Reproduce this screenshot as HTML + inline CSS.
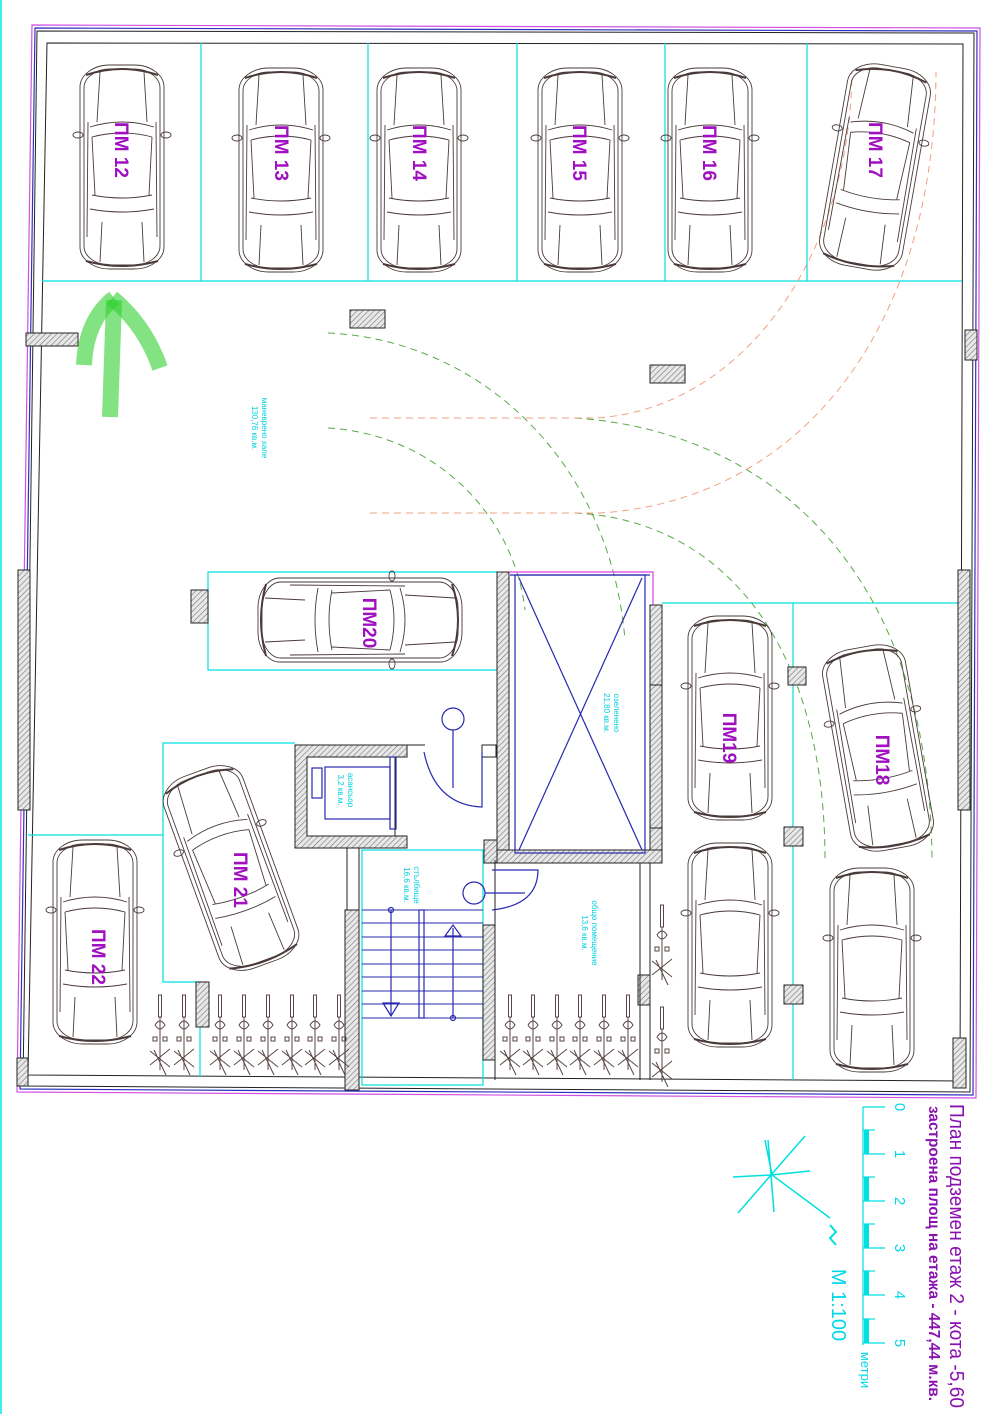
<!DOCTYPE html>
<html><head><meta charset="utf-8"><style>
html,body{margin:0;padding:0;background:#fff;}
svg{display:block;}
.t{font-family:"Liberation Sans",sans-serif;}
</style></head><body>
<svg width="1000" height="1414" viewBox="0 0 1000 1414" xmlns="http://www.w3.org/2000/svg">
<defs>
<pattern id="h" width="4" height="4" patternUnits="userSpaceOnUse" patternTransform="rotate(45)">
<rect width="4" height="4" fill="#e8e8e8"/><line x1="0" y1="0" x2="0" y2="4" stroke="#777" stroke-width="1.2"/>
</pattern>
<g id="car" fill="none" stroke="#4a3a3a" stroke-width="0.9">
<rect x="-42" y="-102" width="84" height="204" rx="30" ry="22"/>
<rect x="-38" y="-98" width="76" height="196" rx="26" ry="19"/>
<path d="M-36,-92 Q0,-104 36,-92" stroke-width="2"/>
<path d="M-36,94 Q0,104 36,94" stroke-width="2"/>
<path d="M-32,-40 Q0,-50 32,-40 M-30,-30 Q0,-38 30,-30"/>
<path d="M-30,28 Q0,34 30,28 M-32,42 Q0,48 32,42"/>
<path d="M-30,-30 L-27,28 M30,-30 L27,28"/>
<path d="M-34,-45 L-35,70 M34,-45 L35,70"/>
<path d="M-22,-95 L-25,-45 M22,-95 L25,-45 M-20,55 L-22,95 M20,55 L22,95"/>
<ellipse cx="-44" cy="-32" rx="5" ry="3"/><ellipse cx="44" cy="-32" rx="5" ry="3"/>
</g>
<g id="bike" fill="none" stroke="#5a4545" stroke-width="1">
<rect x="-1.5" y="0" width="3" height="22"/>
<path d="M0,22 L0,75"/>
<path d="M-5,30 Q0,22 5,30 Q0,38 -5,30"/>
<rect x="-7" y="42" width="4" height="4"/><rect x="3" y="42" width="4" height="4"/>
<path d="M-10,70 L10,54 M-10,56 L10,72 M-6,55 L6,80"/>
</g>
</defs>

<line x1="1" y1="0" x2="1" y2="1414" stroke="#00e5e5" stroke-width="1.5"/>

<polygon points="32,25 980,28 976,1098 17,1092" fill="none" stroke="#d050e0" stroke-width="1.2"/>
<polygon points="35,28 977,31 973,1095 20,1089" fill="none" stroke="#3030c0" stroke-width="1.2"/>
<polygon points="37,31 974,33 970,1092 23,1086" fill="none" stroke="#222" stroke-width="1"/>
<polygon points="47,43 963,44 960,1081 28,1075" fill="none" stroke="#222" stroke-width="1"/>

<g stroke="#00e0e0" stroke-width="1.2" fill="none">
<line x1="42" y1="281" x2="962" y2="281"/>
<line x1="201" y1="43" x2="201" y2="281"/>
<line x1="368" y1="43" x2="368" y2="281"/>
<line x1="517" y1="43" x2="517" y2="281"/>
<line x1="665" y1="43" x2="665" y2="281"/>
<line x1="807" y1="43" x2="807" y2="281"/>
<polyline points="497,572 208,572 208,670 497,670"/>
<polyline points="295,743 163,743 163,982 200,982 200,1077"/>
<line x1="28" y1="835" x2="163" y2="835"/>
<line x1="662" y1="603" x2="960" y2="603"/>
<line x1="793" y1="603" x2="793" y2="1080"/>
<rect x="362" y="850" width="121" height="235"/>
</g>

<g fill="none" stroke-dasharray="7,5" stroke-width="1">
<path d="M328,333 C480,340 610,460 625,640" stroke="#58a848"/>
<path d="M328,428 C440,435 515,520 525,610" stroke="#58a848"/>
<path d="M575,418 C760,430 930,560 932,860" stroke="#58a848"/>
<path d="M575,513 C720,520 825,640 825,860" stroke="#58a848"/>
<path d="M370,418 L595,418 C740,410 850,260 852,72" stroke="#f0a080"/>
<path d="M370,513 L600,513 C800,500 935,330 936,72" stroke="#f0a080"/>
</g>

<g fill="url(#h)" stroke="#222" stroke-width="1">
<rect x="26" y="333" width="52" height="13"/>
<rect x="18" y="570" width="12" height="240"/>
<rect x="17" y="1058" width="11" height="28"/>
<rect x="965" y="330" width="12" height="30"/>
<rect x="958" y="570" width="12" height="240"/>
<rect x="953" y="1038" width="13" height="50"/>
<rect x="350" y="310" width="35" height="18"/>
<rect x="650" y="365" width="35" height="18"/>
<rect x="191" y="590" width="17" height="33"/>
<rect x="788" y="667" width="18" height="18"/>
<rect x="784" y="827" width="19" height="19"/>
<rect x="784" y="985" width="19" height="19"/>
<rect x="196" y="982" width="13" height="45"/>
<rect x="497" y="572" width="12" height="284"/>
<rect x="650" y="605" width="12" height="80"/>
<rect x="650" y="685" width="12" height="143"/>
<rect x="650" y="828" width="12" height="35"/>
<rect x="490" y="850" width="172" height="13"/>
<rect x="484" y="840" width="13" height="23"/>
<rect x="345" y="910" width="14" height="180"/>
<rect x="483" y="925" width="12" height="135"/>
<rect x="638" y="975" width="12" height="30"/>
<path d="M295,745 H407 V757 H395 V836 H407 V848 H295 Z M307,757 V836 H395 V757 Z" fill-rule="evenodd"/>
</g>
<g fill="none" stroke="#222" stroke-width="1">
<rect x="482" y="745" width="14" height="12"/>
<line x1="359" y1="848" x2="359" y2="1090"/>
<line x1="347" y1="848" x2="347" y2="910"/>
<line x1="495" y1="860" x2="495" y2="1080"/>
<line x1="640" y1="863" x2="640" y2="1080"/>
<line x1="650" y1="863" x2="650" y2="1080"/>
<line x1="405" y1="745" x2="425" y2="745"/>
</g>
<g fill="none" stroke="#2828b0" stroke-width="1.2">
<rect x="515" y="575" width="130" height="278"/>
<line x1="519" y1="578" x2="642" y2="850"/>
<line x1="642" y1="578" x2="519" y2="850"/>
<line x1="510" y1="575" x2="650" y2="575"/>
</g>
<polyline points="509,572 653,572 653,605" fill="none" stroke="#e040e0" stroke-width="1.2"/>
<g fill="none" stroke="#2828b0" stroke-width="1.2">
<rect x="312" y="768" width="10" height="30"/>
<rect x="325" y="767" width="65" height="52"/>
<rect x="390" y="757" width="6" height="72"/>
</g>
<g fill="none" stroke="#2828b0" stroke-width="1.2">
<circle cx="453" cy="719" r="11"/><line x1="453" y1="730" x2="453" y2="788"/>
<path d="M424,752 Q435,805 482,807 L482,752"/>
<circle cx="474" cy="893" r="11"/><line x1="485" y1="893" x2="525" y2="893"/>
<path d="M492,870 H538 Q538,905 492,910"/>
<g stroke-width="1">
<line x1="362" y1="910" x2="483" y2="910"/>
<line x1="362" y1="923" x2="483" y2="923"/><line x1="362" y1="937" x2="483" y2="937"/>
<line x1="362" y1="950" x2="483" y2="950"/><line x1="362" y1="964" x2="483" y2="964"/>
<line x1="362" y1="977" x2="483" y2="977"/><line x1="362" y1="991" x2="483" y2="991"/>
<line x1="362" y1="1004" x2="483" y2="1004"/><line x1="362" y1="1018" x2="483" y2="1018"/>
</g>
<rect x="419" y="910" width="5" height="108"/>
<line x1="391" y1="910" x2="391" y2="1015"/>
<circle cx="391" cy="910" r="2.5"/>
<path d="M383,1003 L391,1016 L399,1003 Z"/>
<line x1="453" y1="928" x2="453" y2="1018"/>
<circle cx="453" cy="1018" r="2.5"/>
<path d="M445,936 L453,925 L461,936 Z"/>
</g>

<g>
<use href="#car" transform="translate(122,167)"/>
<use href="#car" transform="translate(281,170)"/>
<use href="#car" transform="translate(419,170)"/>
<use href="#car" transform="translate(580,170)"/>
<use href="#car" transform="translate(710,170)"/>
<use href="#car" transform="translate(875,167) rotate(10)"/>
<use href="#car" transform="translate(360,620) rotate(90)"/>
<use href="#car" transform="translate(730,718)"/>
<use href="#car" transform="translate(878,748) rotate(-10)"/>
<use href="#car" transform="translate(231,868) rotate(-20)"/>
<use href="#car" transform="translate(95,942)"/>
<use href="#car" transform="translate(730,945)"/>
<use href="#car" transform="translate(872,970)"/>
</g>

<g>
<use href="#bike" transform="translate(160,995)"/><use href="#bike" transform="translate(184,995)"/>
<use href="#bike" transform="translate(220,995)"/><use href="#bike" transform="translate(244,995)"/>
<use href="#bike" transform="translate(268,995)"/><use href="#bike" transform="translate(292,995)"/>
<use href="#bike" transform="translate(315,995)"/><use href="#bike" transform="translate(339,995)"/>
<use href="#bike" transform="translate(510,995)"/><use href="#bike" transform="translate(533,995)"/>
<use href="#bike" transform="translate(557,995)"/><use href="#bike" transform="translate(580,995)"/>
<use href="#bike" transform="translate(604,995)"/><use href="#bike" transform="translate(628,995)"/>
<use href="#bike" transform="translate(662,905)"/><use href="#bike" transform="translate(662,1007)"/>
</g>

<g fill="none" stroke="#30d030" stroke-opacity="0.6" stroke-width="16">
<path d="M110,417 L114,300"/>
<path d="M84,365 Q86,320 114,298"/>
<path d="M160,368 Q145,325 112,298"/>
</g>

<g class="t" fill="#a010c0" font-size="19" font-weight="bold" text-anchor="middle">
<text transform="translate(115,150) rotate(90)">ПМ 12</text>
<text transform="translate(275,153) rotate(90)">ПМ 13</text>
<text transform="translate(413,153) rotate(90)">ПМ 14</text>
<text transform="translate(573,153) rotate(90)">ПМ 15</text>
<text transform="translate(703,153) rotate(90)">ПМ 16</text>
<text transform="translate(869,150) rotate(90)">ПМ 17</text>
<text transform="translate(363,623) rotate(90)">ПМ20</text>
<text transform="translate(723,738) rotate(90)">ПМ19</text>
<text transform="translate(876,760) rotate(90)">ПМ18</text>
<text transform="translate(234,880) rotate(90)">ПМ 21</text>
<text transform="translate(92,957) rotate(90)">ПМ 22</text>
</g>

<g class="t" fill="#00d0e0" font-size="8" text-anchor="middle">
<text transform="translate(262,428) rotate(90)">маневрено хале</text>
<text transform="translate(252,428) rotate(90)">130,76 кв.м.</text>
<text transform="translate(614,713) rotate(90)">озеленено</text>
<text transform="translate(604,713) rotate(90)">21,80 кв.м.</text>
<text transform="translate(348,790) rotate(90)">асансьор</text>
<text transform="translate(338,790) rotate(90)">3,2 кв.м.</text>
<text transform="translate(414,885) rotate(90)">стълбище</text>
<text transform="translate(404,885) rotate(90)">16,6 кв.м.</text>
<text transform="translate(592,933) rotate(90)">общо помещение</text>
<text transform="translate(582,933) rotate(90)">13,6 кв.м.</text>
</g>

<g class="t">
<text transform="translate(950,1104) rotate(90)" font-size="20" fill="#8a10b0" textLength="304" lengthAdjust="spacingAndGlyphs">План подземен етаж 2 - кота -5,60</text>
<text transform="translate(929,1106) rotate(90)" font-size="16" fill="#8a10b0" font-weight="bold" textLength="295" lengthAdjust="spacingAndGlyphs">застроена площ на етажа - 447,44 м.кв.</text>
</g>
<g stroke="#00e0e0" fill="none" stroke-width="1.2">
<line x1="863" y1="1107" x2="863" y2="1345"/>
<line x1="863" y1="1107" x2="885" y2="1107"/>
<line x1="863" y1="1154" x2="885" y2="1154"/>
<line x1="863" y1="1201" x2="885" y2="1201"/>
<line x1="863" y1="1248" x2="885" y2="1248"/>
<line x1="863" y1="1295" x2="885" y2="1295"/>
<line x1="863" y1="1343" x2="885" y2="1343"/>
<line x1="863" y1="1130" x2="875" y2="1130"/><line x1="863" y1="1177" x2="875" y2="1177"/>
<line x1="863" y1="1224" x2="875" y2="1224"/><line x1="863" y1="1271" x2="875" y2="1271"/>
<line x1="863" y1="1319" x2="875" y2="1319"/>
</g>
<g fill="#00e0e0">
<rect x="864" y="1130" width="5" height="24"/><rect x="864" y="1177" width="5" height="24"/>
<rect x="864" y="1224" width="5" height="24"/><rect x="864" y="1271" width="5" height="24"/>
<rect x="864" y="1319" width="5" height="24"/>
</g>
<g class="t" fill="#00d8e8" font-size="15" text-anchor="middle">
<text transform="translate(895,1107) rotate(90)">0</text>
<text transform="translate(895,1154) rotate(90)">1</text>
<text transform="translate(895,1201) rotate(90)">2</text>
<text transform="translate(895,1248) rotate(90)">3</text>
<text transform="translate(895,1295) rotate(90)">4</text>
<text transform="translate(895,1343) rotate(90)">5</text>
<text transform="translate(861,1370) rotate(90)" font-size="13">метри</text>
<text transform="translate(832,1305) rotate(90)" font-size="20">М 1:100</text>
</g>
<g stroke="#00e0e0" fill="none" stroke-width="1.5">
<path d="M768,1140 L771,1175 L774,1212 M733,1177 L771,1175 L810,1171 M738,1213 L771,1175 L805,1136 M765,1140 L772,1175 L830,1218"/>
<path d="M830,1225 L836,1232 L830,1238 L836,1245" stroke-width="2"/>
</g>
</svg>
</body></html>
